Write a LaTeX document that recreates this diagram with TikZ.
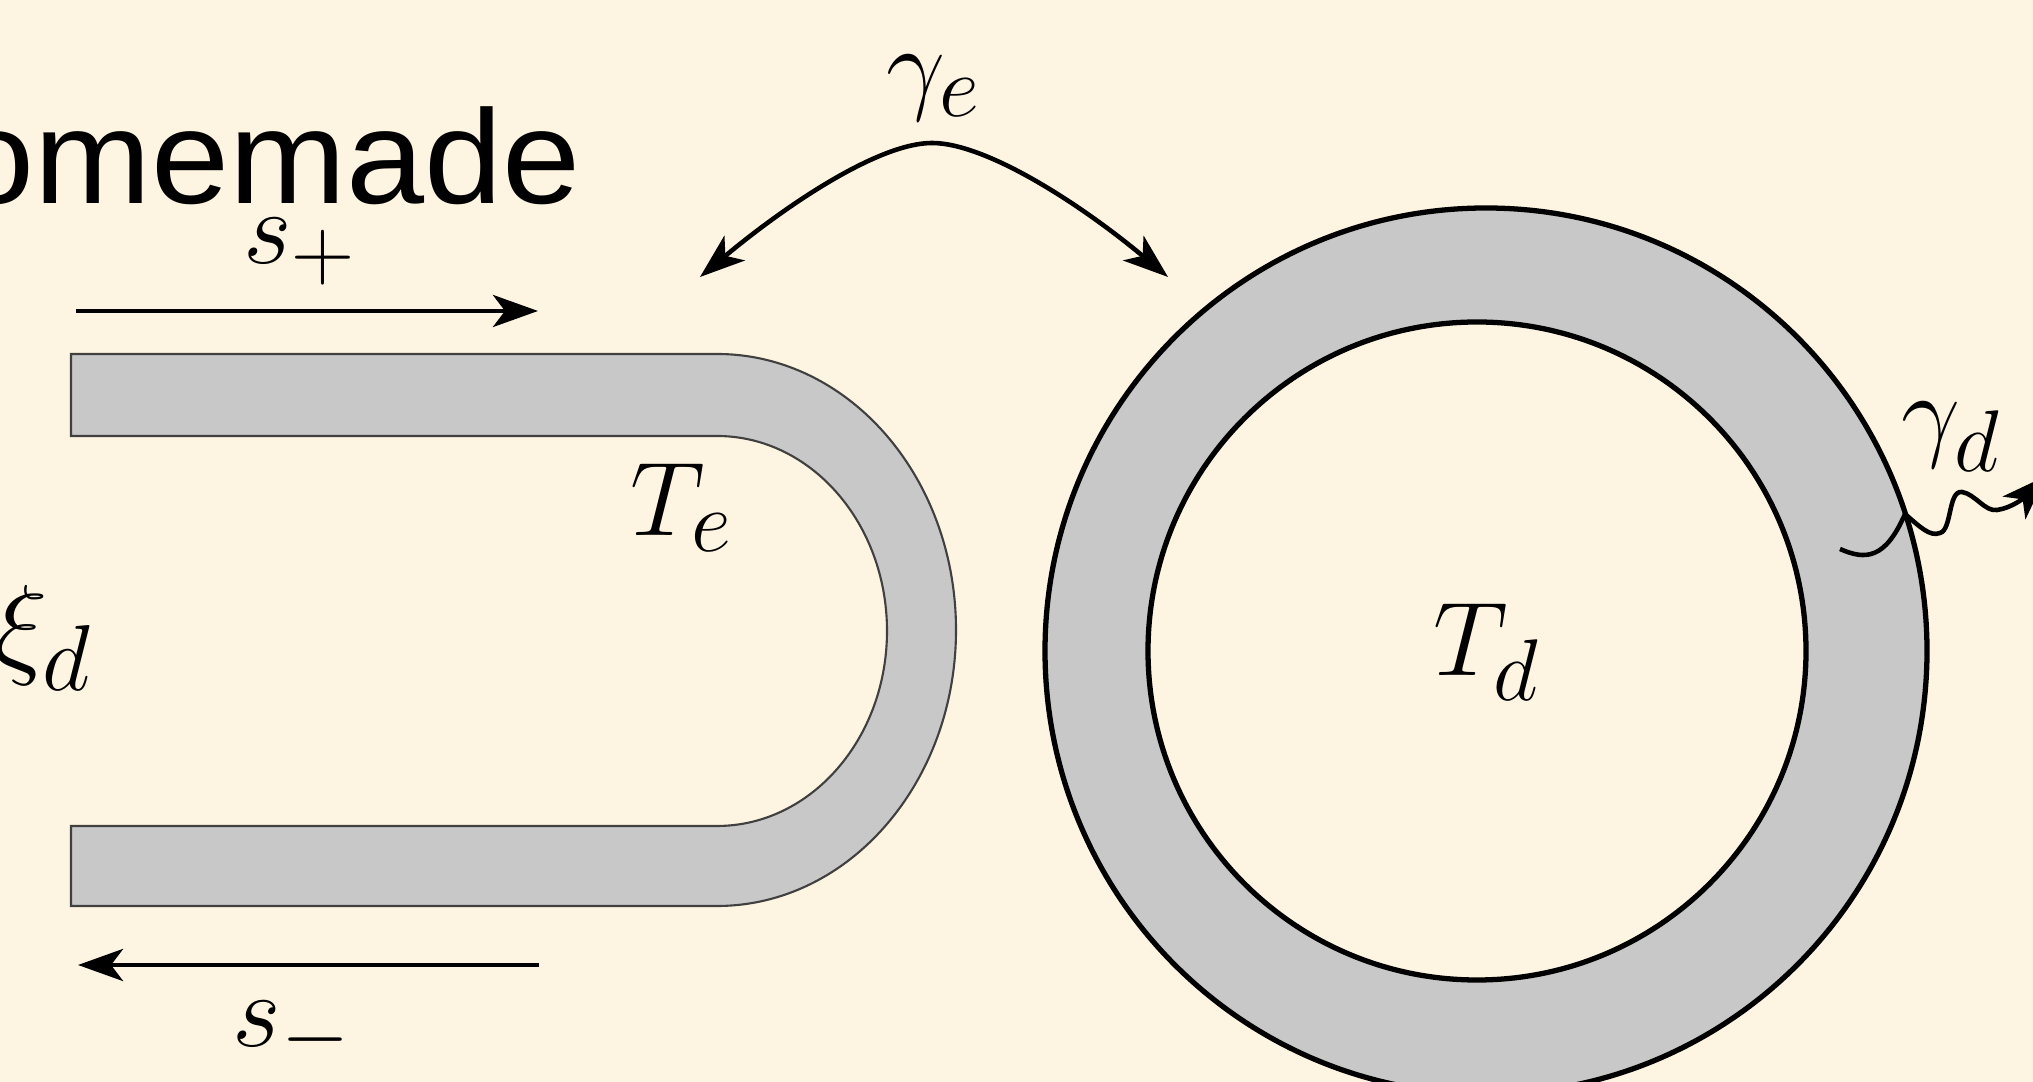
\documentclass[tikz,border=0pt]{standalone}
\usepackage{xcolor}
\usepackage{tikz}
\usepackage{amsmath}
\usepackage{fontspec}
\newfontfamily\titlefont{Liberation Sans}
\usetikzlibrary{
    arrows.meta,
    positioning
}
\definecolor{paper}{RGB}{254,244,226}
\definecolor{guide}{RGB}{200,200,200}

\begin{document}
\begin{tikzpicture}[
    x=0.01cm,
    y=0.01cm,
    label/.style={
        inner sep=0pt,
        scale=1.2,
        font=\Huge
    },
    wire/.style={
        line width=1.3pt,
        -{Stealth[length=4.5mm,width=3.2mm,inset=1.2mm]}
    },
    ring/.style={
        draw=black,
        line width=1.5pt
    }
]

\useasboundingbox (0,0) rectangle (2033,1082);
\clip (0,0) rectangle (2033,1082);
\fill[paper] (0,0) rectangle (2033,1082);

% waveguide
\draw[fill=guide, draw=black!75, line width=0.6pt]
    (71,728) -- (717,728)
    arc[start angle=90, end angle=-90, x radius=239, y radius=276]
    -- (71,176) -- (71,256) -- (717,256)
    arc[start angle=-90, end angle=90, x radius=170, y radius=195]
    -- (71,646) -- cycle;

% disk
\draw[ring, fill=guide] (1486,431) ellipse [x radius=441, y radius=443];
\draw[ring, fill=paper] (1477,431) circle [radius=329];

% text
\node[anchor=base east, inner sep=0pt, xscale=1.05, font=\titlefont\fontsize{38}{46}\selectfont] (title) at (581,878) {omemade};
\node[label] (splus) at (300,830) {$s_+$};
\node[label] (sminus) at (292,47) {$s_-$};
\node[label] (Te) at (682,574) {$T_e$};
\node[label] (Td) at (1487,430) {$T_d$};
\node[label, scale=1.07, anchor=base east] (xid) at (93,418) {$\xi_d$};
\node[label] (gammae) at (934,994) {$\gamma_e$};
\node[label] (gammad) at (1951,645) {$\gamma_d$};

% arrows
\coordinate (splusA) at (76,771);
\coordinate (splusB) at (538,771);
\coordinate (sminusA) at (539,117);
\coordinate (sminusB) at (78,117);
\coordinate (apex) at (932,939);
\coordinate (tipL) at (700,805);
\coordinate (tipR) at (1168,805);
\coordinate (lossA) at (1840,533);
\coordinate (lossB) at (2046,606);

\draw[wire] (splusA) -- (splusB);
\draw[wire] (sminusA) -- (sminusB);
\draw[wire] (apex) .. controls (880,939) and (790,880) .. (tipL);
\draw[wire] (apex) .. controls (985,939) and (1078,880) .. (tipR);
\draw[wire] (lossA) .. controls (1865,522) and (1885,522) .. (1905,568)
    .. controls (1920,555) and (1930,545) .. (1940,549)
    .. controls (1952,552) and (1948,592) .. (1962,590)
    .. controls (1975,588) and (1985,570) .. (1997,572)
    .. controls (2012,574) and (2025,585) .. (lossB);

\end{tikzpicture}
\end{document}
